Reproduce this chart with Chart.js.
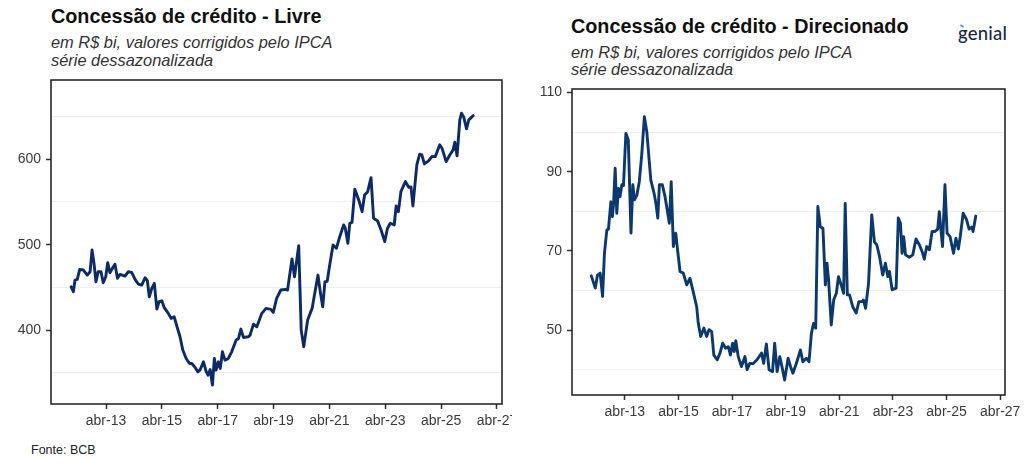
<!DOCTYPE html>
<html>
<head>
<meta charset="utf-8">
<script src="https://cdn.jsdelivr.net/npm/chart.js@4.4.1/dist/chart.umd.min.js"></script>
<style>
  body { margin: 0; background: #fff; width: 1024px; height: 466px; overflow: hidden; position: relative;
         font-family: "Liberation Sans", Arial, sans-serif; }
  .title { position: absolute; font-size: 19.8px; font-weight: bold; line-height: 1; color: #111; white-space: nowrap; }
  .sub { position: absolute; font-size: 16.4px; font-style: italic; color: #333; white-space: nowrap; }
  .box { position: absolute; }
  #fonte { position: absolute; left: 31px; top: 444px; font-size: 12.5px; line-height: 1; color: #222; }
  #logo { position: absolute; left: 958px; top: 24px; font-family: Lato, "Noto Sans", sans-serif; font-size: 18.5px;
          font-weight: 500; color: #1b264f; line-height: 1; letter-spacing: 0.2px; }
  #logo-dot { position: absolute; left: 960px; top: 25px; width: 4px; height: 2px; background: #4aa3df;
              transform: rotate(30deg); }
</style>
</head>
<body>
<div class="title" style="left:51px; top:7px;">Concessão de crédito - Livre</div>
<div class="sub" style="left:51px; top:34px; line-height:17.5px;">em R$ bi, valores corrigidos pelo IPCA<br>série dessazonalizada</div>

<div class="title" style="left:571px; top:17px;">Concessão de crédito - Direcionado</div>
<div class="sub" style="left:571px; top:44px; line-height:16.5px;">em R$ bi, valores corrigidos pelo IPCA<br>série dessazonalizada</div>

<div id="logo">genial</div>
<div id="logo-dot"></div>

<div class="box" style="left:0; top:70px;"><canvas id="livre" width="512" height="370"></canvas></div>
<div class="box" style="left:512px; top:80px;"><canvas id="direc" width="512" height="360"></canvas></div>

<div id="fonte">Fonte: BCB</div>

<script>
// eixo x: anos decimais (abr = .25)
const ticksX = [2013.25, 2015.25, 2017.25, 2019.25, 2021.25, 2023.25, 2025.25, 2027.25];
const rotulosX = ["abr-13", "abr-15", "abr-17", "abr-19", "abr-21", "abr-23", "abr-25", "abr-27"];

// Livre (R$ bi)
const livreAnos = [
  2012.00, 2012.08, 2012.14, 2012.22, 2012.31, 2012.44, 2012.58, 2012.68, 2012.75, 2012.82,
  2012.89, 2012.97, 2013.07, 2013.15, 2013.24, 2013.31, 2013.39, 2013.48, 2013.57, 2013.66,
  2013.75, 2013.93, 2014.05, 2014.17, 2014.29, 2014.41, 2014.53, 2014.65, 2014.73, 2014.80,
  2014.89, 2014.98, 2015.07, 2015.15, 2015.25, 2015.33, 2015.48, 2015.58, 2015.69, 2015.81,
  2015.90, 2016.00, 2016.12, 2016.24, 2016.32, 2016.44, 2016.54, 2016.62, 2016.74, 2016.84,
  2016.90, 2016.98, 2017.06, 2017.13, 2017.19, 2017.27, 2017.34, 2017.42, 2017.51, 2017.63,
  2017.75, 2017.91, 2017.99, 2018.08, 2018.17, 2018.35, 2018.41, 2018.53, 2018.65, 2018.83,
  2018.98, 2019.15, 2019.24, 2019.36, 2019.51, 2019.67, 2019.75, 2019.91, 2020.00, 2020.15,
  2020.24, 2020.33, 2020.47, 2020.63, 2020.84, 2020.93, 2021.01, 2021.09, 2021.17, 2021.25,
  2021.38, 2021.50, 2021.62, 2021.76, 2021.82, 2021.91, 2021.98, 2022.06, 2022.16, 2022.30,
  2022.42, 2022.51, 2022.62, 2022.74, 2022.83, 2022.97, 2023.10, 2023.23, 2023.33, 2023.43,
  2023.57, 2023.64, 2023.72, 2023.81, 2023.97, 2024.09, 2024.17, 2024.24, 2024.38, 2024.48,
  2024.56, 2024.65, 2024.80, 2024.92, 2025.04, 2025.20, 2025.28, 2025.43, 2025.56, 2025.68,
  2025.74, 2025.82, 2025.92, 2025.98, 2026.06, 2026.16, 2026.24, 2026.40
];
const livreValores = [
  450.7, 444.9, 458.6, 459.4, 471.1, 470.3, 464.4, 468.3, 493.7, 478.1,
  456.6, 468.3, 468.3, 455.4, 462.4, 478.9, 467.1, 472.3, 477.0, 460.6,
  465.2, 463.3, 468.3, 467.5, 459.4, 453.9, 452.7, 461.3, 457.8, 439.0,
  448.8, 454.7, 424.6, 433.2, 434.3, 426.6, 419.6, 413.7, 415.6, 402.0,
  392.2, 376.6, 366.8, 360.9, 360.9, 356.3, 351.1, 353.5, 362.9, 351.1,
  347.3, 353.9, 335.6, 366.8, 353.1, 362.9, 355.1, 374.6, 364.8, 366.8,
  374.6, 388.3, 389.8, 401.2, 391.4, 392.2, 394.1, 407.0, 403.9, 419.6,
  425.4, 424.3, 420.7, 437.1, 446.9, 447.7, 446.9, 483.2, 462.4, 498.8,
  400.0, 380.4, 411.7, 425.4, 464.4, 443.0, 427.3, 456.6, 457.0, 474.2,
  499.6, 495.7, 509.3, 523.0, 519.0, 501.6, 525.0, 526.0, 564.9, 552.3,
  538.6, 558.2, 562.0, 578.4, 530.9, 528.1, 517.2, 503.5, 519.2, 525.0,
  523.0, 545.3, 538.6, 562.0, 573.8, 567.2, 567.5, 545.3, 593.3, 605.8,
  605.0, 594.5, 598.0, 603.1, 603.0, 616.8, 612.9, 597.2, 605.0, 610.9,
  619.9, 603.9, 646.0, 653.9, 649.2, 635.5, 646.0, 651.0
];

// Direcionado (R$ bi)
const direcAnos = [
  2012.00, 2012.15, 2012.23, 2012.33, 2012.42, 2012.49, 2012.58, 2012.64, 2012.73, 2012.79,
  2012.83, 2012.89, 2012.95, 2013.01, 2013.07, 2013.14, 2013.20, 2013.29, 2013.38, 2013.48,
  2013.55, 2013.61, 2013.70, 2013.79, 2013.88, 2013.98, 2014.07, 2014.22, 2014.34, 2014.41,
  2014.48, 2014.54, 2014.65, 2014.75, 2014.83, 2014.91, 2014.98, 2015.06, 2015.15, 2015.21,
  2015.31, 2015.43, 2015.56, 2015.68, 2015.80, 2015.93, 2015.99, 2016.08, 2016.20, 2016.30,
  2016.39, 2016.49, 2016.57, 2016.70, 2016.80, 2016.90, 2017.01, 2017.11, 2017.19, 2017.27,
  2017.33, 2017.39, 2017.48, 2017.60, 2017.73, 2017.81, 2017.91, 2018.03, 2018.18, 2018.35,
  2018.43, 2018.53, 2018.63, 2018.76, 2018.84, 2018.93, 2019.03, 2019.11, 2019.21, 2019.34,
  2019.43, 2019.52, 2019.65, 2019.80, 2019.89, 2020.02, 2020.12, 2020.21, 2020.29, 2020.37,
  2020.45, 2020.54, 2020.64, 2020.73, 2020.79, 2020.85, 2020.95, 2021.04, 2021.14, 2021.22,
  2021.32, 2021.41, 2021.47, 2021.55, 2021.63, 2021.75, 2021.88, 2021.98, 2022.10, 2022.15,
  2022.23, 2022.34, 2022.46, 2022.56, 2022.65, 2022.75, 2022.87, 2022.97, 2023.06, 2023.12,
  2023.22, 2023.37, 2023.45, 2023.53, 2023.59, 2023.65, 2023.72, 2023.86, 2023.99, 2024.11,
  2024.24, 2024.34, 2024.42, 2024.51, 2024.61, 2024.71, 2024.82, 2024.92, 2024.98, 2025.04,
  2025.10, 2025.19, 2025.27, 2025.38, 2025.51, 2025.60, 2025.69, 2025.76, 2025.87, 2025.99,
  2026.09, 2026.19, 2026.24, 2026.34
];
const direcValores = [
  63.7, 60.6, 63.9, 64.4, 58.5, 69.4, 75.3, 75.5, 82.4, 78.7,
  81.9, 90.9, 79.5, 85.8, 83.7, 86.7, 86.5, 99.7, 98.0, 74.5,
  86.7, 82.9, 84.1, 87.5, 94.2, 103.9, 100.1, 87.9, 84.6, 82.0,
  78.3, 86.7, 86.7, 83.7, 80.4, 77.0, 87.5, 71.1, 74.5, 70.7,
  64.8, 64.4, 61.4, 63.1, 59.7, 55.9, 51.7, 48.4, 50.5, 48.4,
  50.1, 49.6, 43.7, 42.5, 44.2, 46.7, 45.4, 45.8, 43.7, 46.7,
  44.6, 47.3, 43.3, 40.8, 43.3, 40.0, 41.6, 41.5, 42.5, 44.2,
  41.6, 46.5, 40.0, 39.5, 46.7, 39.5, 43.3, 40.8, 37.4, 42.9,
  40.8, 39.1, 41.6, 45.0, 42.0, 42.9, 42.0, 49.2, 51.7, 50.5,
  81.2, 76.1, 75.7, 61.4, 66.9, 62.7, 51.3, 57.6, 59.3, 63.5,
  61.4, 59.3, 82.0, 58.9, 58.9, 55.9, 54.3, 57.2, 57.2, 57.6,
  55.5, 61.8, 79.1, 72.3, 71.5, 68.6, 63.9, 66.9, 63.5, 64.8,
  60.2, 60.6, 78.3, 77.0, 69.4, 73.6, 69.0, 68.4, 69.0, 73.0,
  71.5, 69.8, 67.9, 71.1, 70.3, 74.9, 74.9, 75.5, 79.9, 75.3,
  71.1, 86.7, 74.5, 73.6, 69.4, 73.2, 70.5, 73.6, 79.5, 78.0,
  75.5, 76.0, 74.9, 78.8
];

const livreTicksY = [350, 400, 450, 500, 550, 600, 650];
const livreRotulosY = [400, 500, 600];
const direcTicksY = [40, 50, 60, 70, 80, 90, 100, 110];
const direcRotulosY = [50, 70, 90, 110];

// moldura do painel
const molduraPlugin = {
  id: "moldura",
  afterDraw(chart) {
    const { ctx, chartArea: a } = chart;
    ctx.save();
    ctx.strokeStyle = "#1a1a1a";
    ctx.lineWidth = 1.5;
    ctx.strokeRect(a.left, a.top, a.right - a.left, a.bottom - a.top);
    ctx.restore();
  },
};

function makeChart(id, anos, valores, cor, yMin, yMax, ticksY, rotulosY, yWidth, xHeight, pad) {
  const fonte = { family: "'Liberation Sans', Arial, sans-serif", size: 14 };
  return new Chart(document.getElementById(id), {
    type: "line",
    data: {
      datasets: [
        {
          data: anos.map((a, i) => ({ x: a, y: valores[i] })),
          borderColor: cor,
          borderWidth: 2.9,
          pointRadius: 0,
          tension: 0,
          borderJoinStyle: "round",
          borderCapStyle: "round",
        },
      ],
    },
    options: {
      responsive: false,
      animation: false,
      layout: { padding: pad },
      plugins: { legend: { display: false }, tooltip: { enabled: false } },
      scales: {
        x: {
          type: "linear",
          min: 2011.28,
          max: 2027.43,
          afterBuildTicks: (s) => { s.ticks = ticksX.map((v) => ({ value: v })); },
          afterFit: (s) => { s.height = xHeight; s.paddingLeft = 0; s.paddingRight = 0; },
          ticks: {
            autoSkip: false,
            maxRotation: 0,
            padding: 4,
            color: "#3a3a3a",
            font: fonte,
            callback: (v, i) => rotulosX[i],
          },
          grid: { drawOnChartArea: false, tickLength: 5, tickColor: "#333", tickWidth: 1.5 },
          border: { display: false },
        },
        y: {
          min: yMin,
          max: yMax,
          afterBuildTicks: (s) => { s.ticks = ticksY.map((v) => ({ value: v })); },
          afterFit: (s) => { s.width = yWidth; s.paddingTop = 0; s.paddingBottom = 0; },
          ticks: {
            padding: 5,
            color: "#3a3a3a",
            font: fonte,
            callback: (v) => (rotulosY.includes(v) ? v : ""),
          },
          grid: {
            color: (c) => (rotulosY.includes(c.tick.value) ? "rgba(0,0,0,0)" : "#efefef"),
            tickColor: (c) => (rotulosY.includes(c.tick.value) ? "#333" : "rgba(0,0,0,0)"),
            tickLength: 5,
            tickWidth: 1.5,
            lineWidth: 1,
          },
          border: { display: false },
        },
      },
    },
    plugins: [molduraPlugin],
  });
}

makeChart("livre", livreAnos, livreValores, "#0c2a68", 313.5, 692.7,
  livreTicksY, livreRotulosY, 51, 36, { left: 0, top: 10, right: 10, bottom: 0 });
makeChart("direc", direcAnos, direcValores, "#0b396f", 33.6, 110.9,
  direcTicksY, direcRotulosY, 60, 45, { left: 0, top: 9, right: 19, bottom: 0 });
</script>
</body>
</html>
